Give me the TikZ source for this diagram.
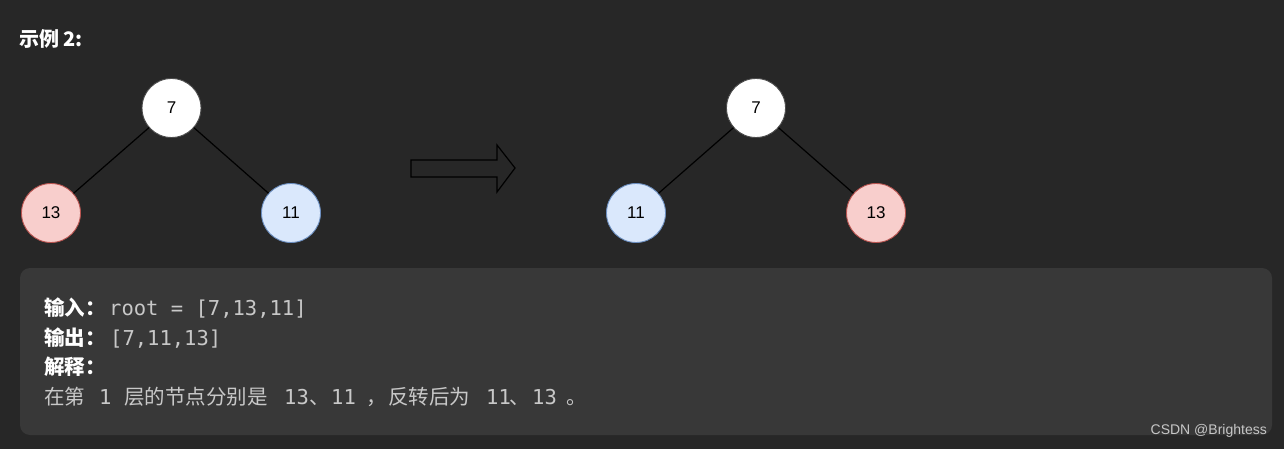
\documentclass[tikz,border=0pt]{standalone}
\usepackage{fontspec}
\setmainfont{Liberation Sans}
\newfontfamily\cjk{Noto Sans CJK SC}
\newfontfamily\mono{DejaVu Sans Mono}
\definecolor{bgc}{HTML}{272727}
\definecolor{boxc}{HTML}{383838}
\definecolor{codec}{HTML}{C8C8C8}
\definecolor{pinkf}{HTML}{F8CECC}
\definecolor{pinkd}{HTML}{B85450}
\definecolor{bluef}{HTML}{DAE8FC}
\definecolor{blued}{HTML}{6C8EBF}
\begin{document}
\begin{tikzpicture}[x=1pt,y=-1pt,
  treenode/.style={circle,minimum size=59pt,inner sep=0pt,line width=0.9pt,font=\fontsize{17}{17}\selectfont,text=black},
  whitenode/.style={treenode,fill=white,draw=black!70},
  pinknode/.style={treenode,fill=pinkf,draw=pinkd},
  bluenode/.style={treenode,fill=bluef,draw=blued},
  edge/.style={draw=black,line width=1.2pt},
  seg/.style={anchor=base west,inner sep=0pt},
  cjklabel/.style={seg,text=white,font=\cjk\bfseries\fontsize{20.5}{20.5}\selectfont},
  cjktext/.style={seg,text=codec,font=\cjk\fontsize{20.5}{20.5}\selectfont},
  codetext/.style={seg,text=codec,font=\mono\fontsize{20.5}{20.5}\selectfont}]
\useasboundingbox (0,0) rectangle (1284,449);
\fill[bgc] (0,0) rectangle (1284,449);
\node[anchor=west,inner sep=0pt,text=white,font=\cjk\bfseries\fontsize{20}{20}\selectfont] (title) at (19,39) {示例 2:};
% left tree
\node[whitenode] (l7) at (171.5,108) {7};
\node[pinknode] (l13) at (51,213) {13};
\node[bluenode] (l11) at (291,213) {11};
\draw[edge] (l7) -- (l13);
\draw[edge] (l7) -- (l11);
% arrow
\draw[black,line width=1.2pt,fill=bgc,line join=miter] (411,160) -- (497,160) -- (497,145) -- (515,168) -- (497,192) -- (497,177) -- (411,177) -- cycle;
% right tree
\node[whitenode] (r7) at (756,108) {7};
\node[bluenode] (r11) at (636,213) {11};
\node[pinknode] (r13) at (876,213) {13};
\draw[edge] (r7) -- (r11);
\draw[edge] (r7) -- (r13);
% code box
\fill[boxc,rounded corners=10pt] (20,268) rectangle (1272,435);
\node[cjklabel] (in) at (44,315) {输入：};
\node[codetext] (incode) at (109,315) {root = [7,13,11]};
\node[cjklabel] (out) at (44,345) {输出：};
\node[codetext] (outcode) at (110,345) {[7,11,13]};
\node[cjklabel] (expl) at (44,374) {解释：};
\node[cjktext] (t1) at (44,404) {在第};
\node[codetext] (t2) at (99,404) {1};
\node[cjktext] (t3) at (124,404) {层的节点分别是};
\node[codetext] (t4) at (284,404) {13};
\node[cjktext] (t5) at (309,404) {、};
\node[codetext] (t6) at (331,404) {11};
\node[cjktext] (t7) at (366,404) {，};
\node[cjktext] (t8) at (388,404) {反转后为};
\node[codetext] (t9) at (486,404) {11};
\node[cjktext] (t10) at (509,404) {、};
\node[codetext] (t11) at (532,404) {13};
\node[cjktext] (t12) at (566,404) {。};
\node[anchor=east,inner sep=0pt,text=black!22,font=\fontsize{14}{14}\selectfont] (wm) at (1267,431) {CSDN @Brightess};
\end{tikzpicture}
\end{document}
